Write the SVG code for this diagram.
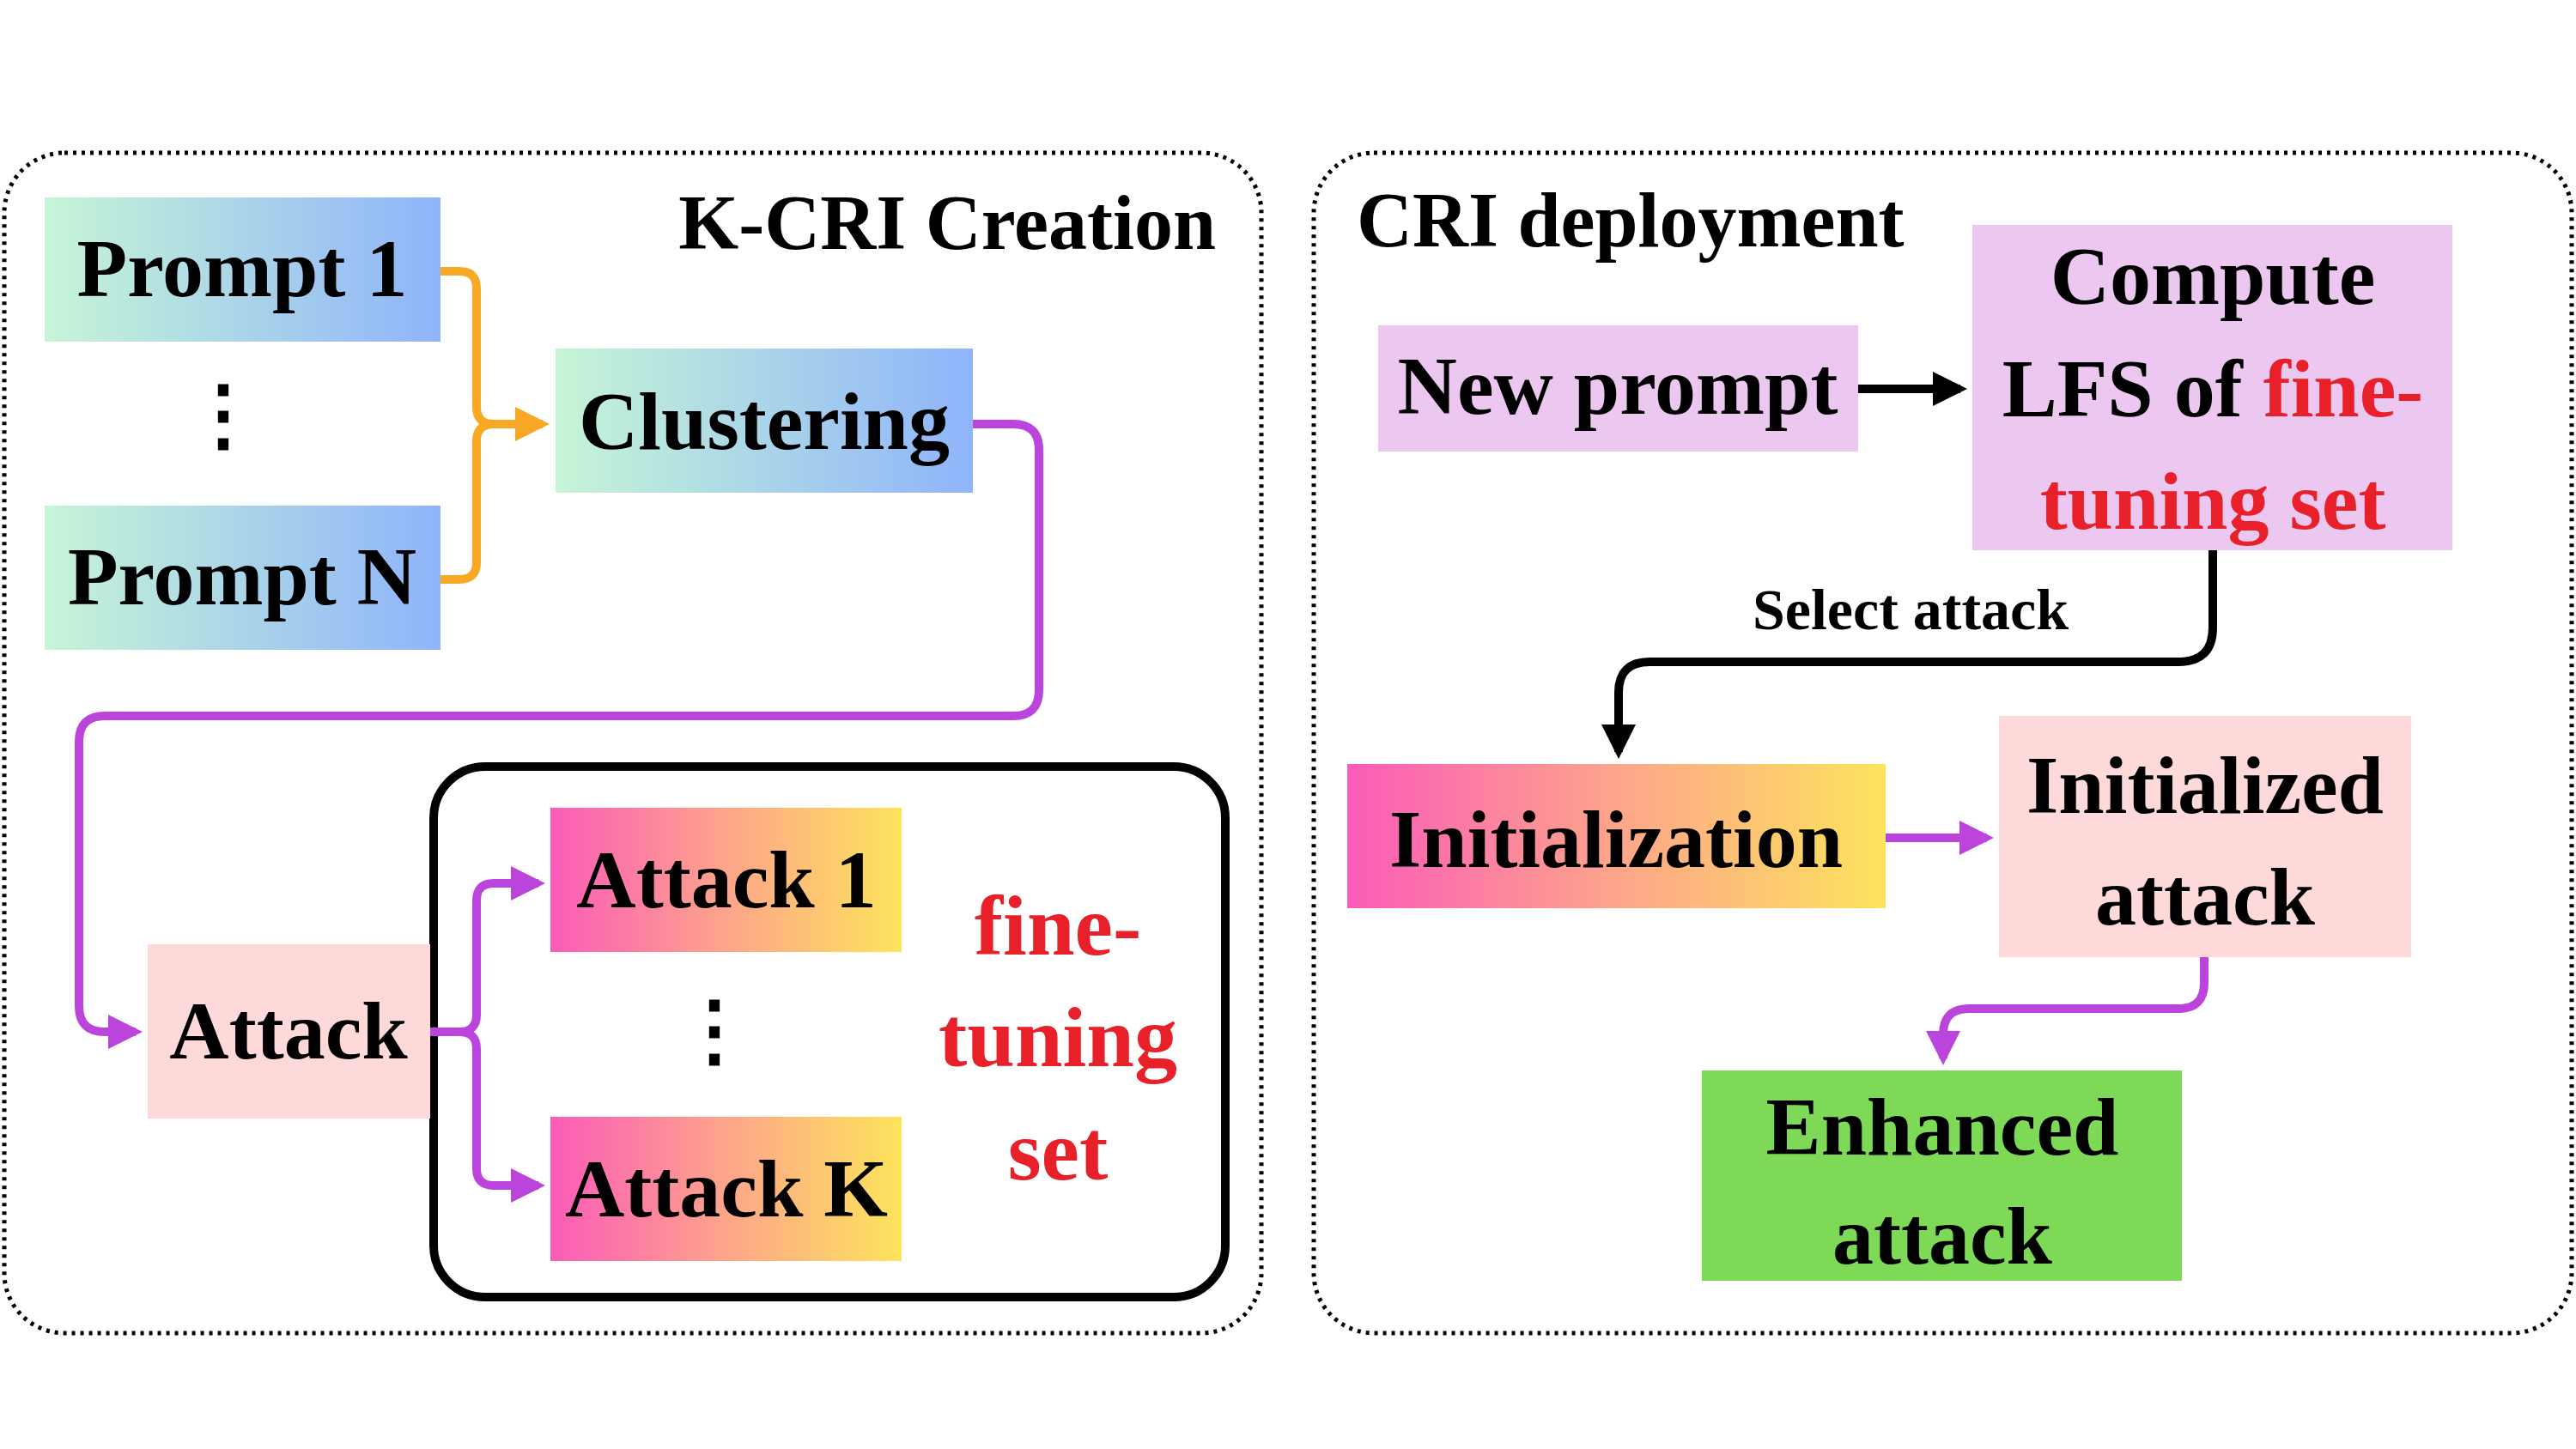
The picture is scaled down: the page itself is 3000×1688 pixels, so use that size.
<svg xmlns="http://www.w3.org/2000/svg" width="3000" height="1688" viewBox="0 0 3000 1688">
<defs>
<linearGradient id="gb" x1="0" x2="1" y1="0" y2="0"><stop offset="0" stop-color="#c6f5d6"/><stop offset="1" stop-color="#8fb4fb"/></linearGradient>
<linearGradient id="gp" x1="0" x2="1" y1="0" y2="0"><stop offset="0" stop-color="#fb5bb9"/><stop offset="0.5" stop-color="#fda58a"/><stop offset="1" stop-color="#fde45c"/></linearGradient>
<marker id="ao" viewBox="0 0 10 10" refX="8" refY="5" markerWidth="4" markerHeight="4" orient="auto"><path d="M0,0L10,5L0,10z" fill="#f9a825"/></marker>
<marker id="ap" viewBox="0 0 10 10" refX="8" refY="5" markerWidth="4" markerHeight="4" orient="auto"><path d="M0,0L10,5L0,10z" fill="#bb44dd"/></marker>
<marker id="ak" viewBox="0 0 10 10" refX="8" refY="5" markerWidth="4" markerHeight="4" orient="auto"><path d="M0,0L10,5L0,10z" fill="#000"/></marker>
</defs>
<style>
text{font-family:"Liberation Serif","DejaVu Serif",serif;font-weight:bold;fill:#000;text-anchor:middle}
.r{fill:#e8202a}
.panel{fill:none;stroke:#000;stroke-width:5;stroke-dasharray:4 6}
.o{fill:none;stroke:#f9a825;stroke-width:10}
.p{fill:none;stroke:#bb44dd;stroke-width:10}
.k{fill:none;stroke:#000;stroke-width:10}
</style>
<rect width="3000" height="1688" fill="#fff"/>
<rect class="panel" x="5" y="178" width="1464" height="1375" rx="70"/>
<rect class="panel" x="1530" y="178" width="1465" height="1375" rx="70"/>
<text x="1416" y="290" font-size="90" style="text-anchor:end">K-CRI Creation</text>
<text x="1580" y="287" font-size="90" style="text-anchor:start">CRI deployment</text>
<rect x="505" y="893" width="922" height="618" rx="60" fill="none" stroke="#000" stroke-width="10"/>
<g id="connectors">
<path class="o" d="M513,316H535Q555,316 555,336V474Q555,494 575,494H632" marker-end="url(#ao)"/>
<path class="o" d="M513,675H535Q555,675 555,655V514Q555,494 575,494"/>
<path class="p" d="M1133,494H1180Q1210,494 1210,524V804Q1210,834 1180,834H122Q92,834 92,864V1172Q92,1202 122,1202H158" marker-end="url(#ap)"/>
<path class="p" d="M501,1202H535Q555,1202 555,1182V1049Q555,1029 575,1029H627" marker-end="url(#ap)"/>
<path class="p" d="M535,1202Q555,1202 555,1222V1361Q555,1381 575,1381H627" marker-end="url(#ap)"/>
<path class="k" d="M2164,453H2283" marker-end="url(#ak)"/>
<path class="k" d="M2577,641V731Q2577,771 2537,771H1921Q1885,771 1885,807V876" marker-end="url(#ak)"/>
<path class="p" d="M2196,976H2314" marker-end="url(#ap)"/>
<path class="p" d="M2567,1115V1145Q2567,1175 2537,1175H2293Q2263,1175 2263,1205V1233" marker-end="url(#ap)"/>
</g>
<g id="prompt1"><rect x="52" y="230" width="461" height="168" fill="url(#gb)"/><text x="282" y="345" font-size="96">Prompt 1</text></g>
<g id="dots1"><text x="260" y="515" font-size="92">⋮</text></g>
<g id="promptN"><rect x="52" y="589" width="461" height="168" fill="url(#gb)"/><text x="282" y="704" font-size="96">Prompt N</text></g>
<g id="clustering"><rect x="647" y="406" width="486" height="168" fill="url(#gb)"/><text x="890" y="523" font-size="96">Clustering</text></g>
<g id="attack"><rect x="172" y="1100" width="329" height="203" fill="#fdd9d9"/><text x="336" y="1233" font-size="96">Attack</text></g>
<g id="attack1"><rect x="641" y="941" width="409" height="168" fill="url(#gp)"/><text x="846" y="1057" font-size="96">Attack 1</text></g>
<g id="dots2"><text x="832" y="1232" font-size="92">⋮</text></g>
<g id="attackK"><rect x="641" y="1301" width="409" height="168" fill="url(#gp)"/><text x="846" y="1417" font-size="96">Attack K</text></g>
<g id="ftset"><text class="r" x="1232" y="1112" font-size="100">fine-</text><text class="r" x="1232" y="1242" font-size="100">tuning</text><text class="r" x="1232" y="1374" font-size="100">set</text></g>
<g id="newprompt"><rect x="1605" y="379" width="559" height="147" fill="#ecc8f0"/><text x="1884" y="482" font-size="96">New prompt</text></g>
<g id="compute"><rect x="2297" y="262" width="559" height="379" fill="#ecc8f0"/><text x="2577" y="354" font-size="96">Compute</text><text x="2577" y="485" font-size="96">LFS of <tspan class="r">fine-</tspan></text><text class="r" x="2577" y="616" font-size="96">tuning set</text></g>
<g id="selectlabel"><text x="2225" y="733" font-size="68">Select attack</text></g>
<g id="init"><rect x="1569" y="890" width="627" height="168" fill="url(#gp)"/><text x="1882" y="1010" font-size="96">Initialization</text></g>
<g id="initattack"><rect x="2328" y="834" width="480" height="281" fill="#fdd9d9"/><text x="2568" y="947" font-size="96">Initialized</text><text x="2568" y="1077" font-size="96">attack</text></g>
<g id="enhanced"><rect x="1982" y="1247" width="559" height="245" fill="#7ed957"/><text x="2262" y="1345" font-size="96">Enhanced</text><text x="2262" y="1472" font-size="96">attack</text></g>
</svg>
